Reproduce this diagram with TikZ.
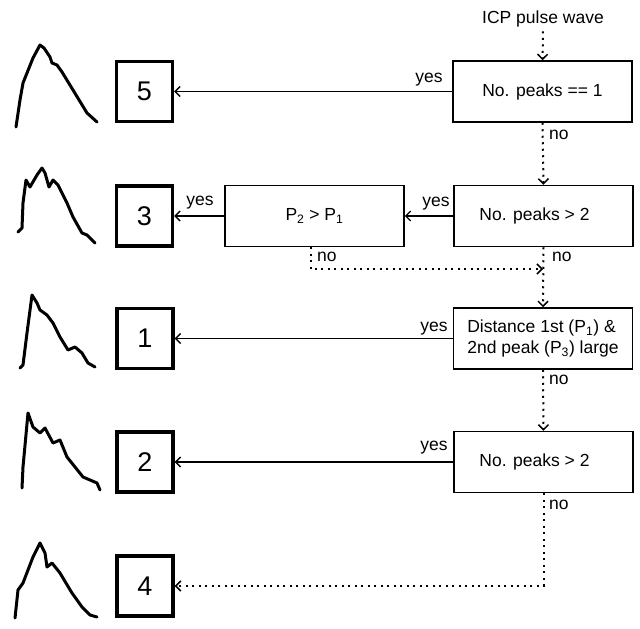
\documentclass[tikz,border=0pt]{standalone}
\usepackage{fontspec}
\setmainfont{Liberation Sans}
\usetikzlibrary{arrows.meta}
\begin{document}
\begin{tikzpicture}[x=1pt,y=-1pt,
  txt/.style={font=\fontsize{17.5}{20}\selectfont, inner sep=0pt},
  decbox/.style={draw, line width=1.5pt, minimum width=179pt, minimum height=61pt, inner sep=2pt, align=left, font=\fontsize{17.5}{21}\selectfont},
  numbox/.style={draw, line width=3.4pt, minimum width=56pt, minimum height=60pt, inner sep=0pt, font=\fontsize{27}{29}\selectfont},
  yesarrow/.style={line width=1.3pt, -{Straight Barb[length=5pt,width=10pt,line width=1.3pt]}},
  noarrow/.style={line width=2pt, dash pattern=on 2pt off 4.5pt, -{Straight Barb[length=5pt,width=10pt,line width=1.5pt]}},
  wave/.style={line width=3pt, line join=round, line cap=round}]
\useasboundingbox (0,0) rectangle (640,629);
% decision boxes
\node[decbox] (d1) at (542.5,91.5) {No. peaks == 1};
\node[decbox] (d2) at (543.5,216) {\hspace*{-18pt}No. peaks > 2};
\node[decbox] (p21) at (314.5,216) {P\textsubscript{2} > P\textsubscript{1}};
\node[decbox] (d3) at (543,338.5) {Distance 1st (P\textsubscript{1}) \&\\2nd peak (P\textsubscript{3}) large};
\node[decbox] (d4) at (543.5,462) {\hspace*{-18pt}No. peaks > 2};
% number boxes
\node[numbox] (n5) at (144.5,91.5) {5};
\node[numbox] (n3) at (144.5,216) {3};
\node[numbox] (n1) at (145,338.5) {1};
\node[numbox] (n2) at (145,462) {2};
\node[numbox] (n4) at (145,586) {4};
% start
\node[txt] (icp) at (543,19) {ICP pulse wave};
\coordinate (m) at (543,269);
% connectors
\draw[noarrow] (icp.south) ++(0,4) -- (d1.north);
\draw[noarrow] (d1.south) -- (d2.north);
\draw[noarrow] (d2.south) -- (d3.north);
\draw[noarrow] (p21.south) ++(-4,0) |- (m);
\draw[noarrow] (d3.south) -- (d4.north);
\draw[noarrow] (d4.south) |- (n4.east);
\draw[yesarrow] (d1.west) -- (n5.east);
\draw[yesarrow] (d2.west) -- (p21.east);
\draw[yesarrow] (p21.west) -- (n3.east);
\draw[yesarrow] (d3.west) -- (n1.east);
\draw[yesarrow] (d4.west) -- (n2.east);
% labels
\node[txt] (y1) at (429,80) {yes};
\node[txt] (y2) at (436,204) {yes};
\node[txt] (y3) at (200,203) {yes};
\node[txt] (y4) at (434,329) {yes};
\node[txt] (y5) at (434,448) {yes};
\node[txt, anchor=west] (no1) at (549,135) {no};
\node[txt, anchor=west] (no2) at (552,257) {no};
\node[txt, anchor=west] (no3) at (317,257) {no};
\node[txt, anchor=west] (no4) at (549,380) {no};
\node[txt, anchor=west] (no5) at (549,505) {no};
% waves
\draw[wave] (16,127) -- (20,100) -- (23,83) -- (33,58) -- (40,45) -- (44,48) -- (50,57) -- (52,63) -- (57,65) -- (62,72) -- (73,90) -- (87,113) -- (97,122);
\draw[wave] (18,232) -- (22,228) -- (23,203) -- (26,180) -- (30,187) -- (37,175) -- (42,168) -- (45,173) -- (49,187) -- (53,180) -- (58,185) -- (67,203) -- (73,217) -- (82,233) -- (87,235) -- (90,238) -- (95,243);
\draw[wave] (20,368) -- (23,365) -- (27,333) -- (32,295) -- (37,303) -- (40,310) -- (47,315) -- (53,323) -- (60,337) -- (68,350) -- (75,347) -- (82,353) -- (88,363) -- (95,367);
\draw[wave] (22,488) -- (23,467) -- (28,413) -- (33,427) -- (40,433) -- (45,428) -- (53,443) -- (60,440) -- (67,457) -- (75,467) -- (83,477) -- (90,480) -- (97,483) -- (100,490);
\draw[wave] (15,618) -- (18,590) -- (23,583) -- (33,557) -- (40,543) -- (45,553) -- (47,567) -- (52,563) -- (60,573) -- (72,593) -- (82,607) -- (90,615) -- (97,617);
\end{tikzpicture}
\end{document}
